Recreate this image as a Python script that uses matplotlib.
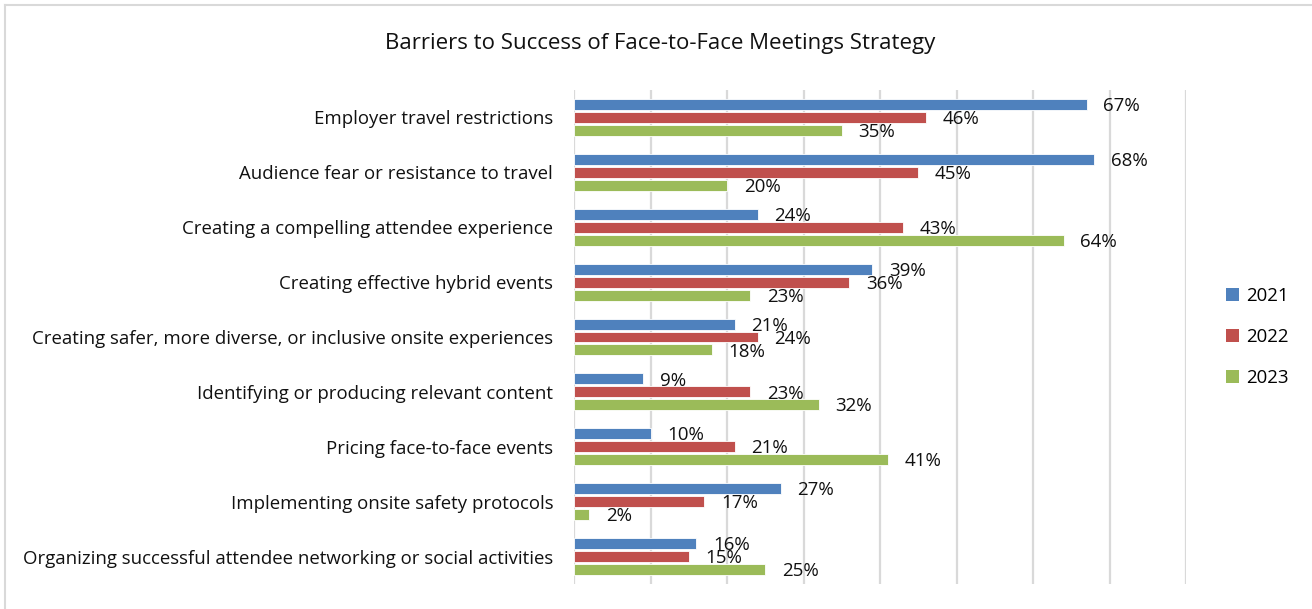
import matplotlib

matplotlib.use("Agg")
import matplotlib.pyplot as plt
import numpy as np
from matplotlib.lines import Line2D
from matplotlib.patches import Patch

categories = [
    "Employer travel restrictions",
    "Audience fear or resistance to travel",
    "Creating a compelling attendee experience",
    "Creating effective hybrid events",
    "Creating safer, more diverse, or inclusive onsite experiences",
    "Identifying or producing relevant content",
    "Pricing face-to-face events",
    "Implementing onsite safety protocols",
    "Organizing successful attendee networking or social activities",
]
years = ["2021", "2022", "2023"]
v2021 = [67, 68, 24, 39, 21, 9, 10, 27, 16]
v2022 = [46, 45, 43, 36, 24, 23, 21, 17, 15]
v2023 = [35, 20, 64, 23, 18, 32, 41, 2, 25]
colors = ["#4f81bd", "#c0504d", "#9bbb59"]

plt.rcParams["font.family"] = ["Open Sans", "DejaVu Sans"]

fig = plt.figure(figsize=(13.12, 6.09), dpi=100)
ax = fig.add_axes([574 / 1312, 1 - 584 / 609, (1186 - 574) / 1312, (584 - 90) / 609])

# frame around the chart (only top/left are visible in the crop)
fig.add_artist(Line2D([5 / 1312, 5 / 1312], [0, 1 - 5 / 609], transform=fig.transFigure,
                      color="#d9d9d9", lw=1.5))
fig.add_artist(Line2D([5 / 1312, 1], [1 - 5 / 609, 1 - 5 / 609], transform=fig.transFigure,
                      color="#d9d9d9", lw=1.5))

y = np.arange(len(categories))
pitch = 0.236
height = 0.2
for i, (vals, c) in enumerate(zip([v2021, v2022, v2023], colors)):
    pos = y + (i - 1) * pitch
    ax.barh(pos, vals, height=height, color=c, edgecolor="white", linewidth=0.6, zorder=3)
    for p, v in zip(pos, vals):
        ax.text(v + 2.2, p + 0.03, f"{v}%", va="center", ha="left", fontsize=13.5,
                color="#111111", zorder=4)

ax.set_xlim(0, 80)
ax.set_ylim(len(categories) - 0.5, -0.5)
ax.set_xticks(np.arange(0, 81, 10))
ax.set_xticklabels([])
ax.tick_params(axis="x", length=0)
ax.xaxis.grid(True, color="#d9d9d9", linewidth=1.6, zorder=0)
ax.set_yticks(y)
ax.set_yticklabels(categories, fontsize=13.4, color="#111111")
ax.tick_params(axis="y", length=0, pad=15)
for s in ["top", "right", "bottom", "left"]:
    ax.spines[s].set_visible(False)

fig.text(660 / 1312, 1 - 43 / 609, "Barriers to Success of Face-to-Face Meetings Strategy",
         ha="center", va="center", fontsize=16, color="#111111")

handles = [Patch(facecolor=c, edgecolor="none") for c in colors]
fig.legend(handles, years, loc="center left", bbox_to_anchor=(1209 / 1312, 1 - 337 / 609),
           frameon=False, fontsize=13.4, handlelength=0.7, handleheight=0.7,
           handletextpad=0.4, labelspacing=1.25)

fig.savefig("out.png", dpi=100)
